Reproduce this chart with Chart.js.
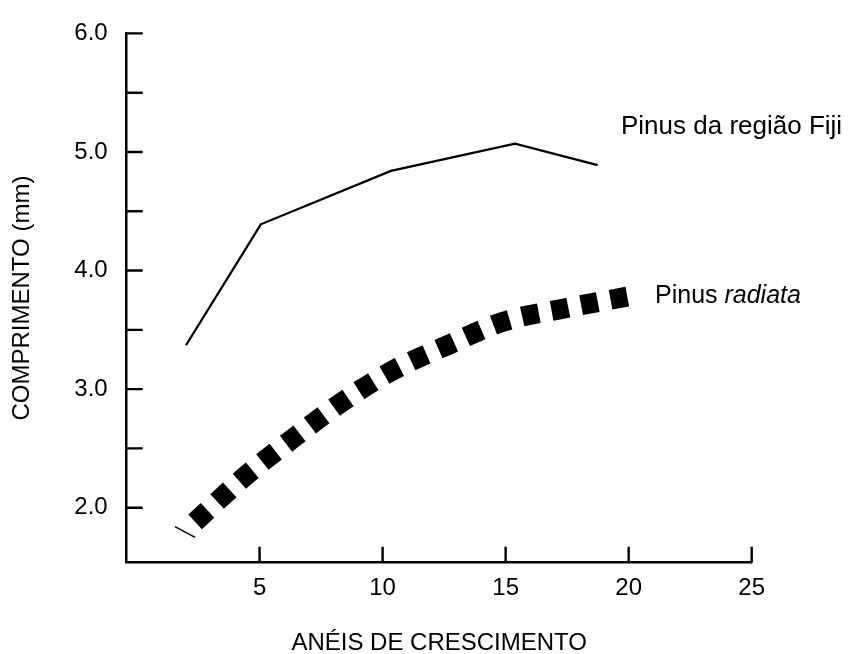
<!DOCTYPE html>
<html>
<head>
<meta charset="utf-8">
<script src="https://cdn.jsdelivr.net/npm/chart.js@4/dist/chart.umd.min.js"></script>
<style>
  html, body { margin: 0; padding: 0; background: #fff; }
  #wrap { width: 851px; height: 654px; }
</style>
</head>
<body>
<div id="wrap"><canvas id="c" width="851" height="654"></canvas></div>
<script>
// ---- data ----
const xTickValues = [5, 10, 15, 20, 25];
const yTickValues = [2.0, 2.5, 3.0, 3.5, 4.0, 4.5, 5.0, 5.5, 6.0];
const yLabeledTicks = [2.0, 3.0, 4.0, 5.0, 6.0];

const fijiX = [2.01, 5.05, 10.34, 15.38, 18.74];
const fijiY = [3.37, 4.39, 4.84, 5.07, 4.89];

const radiataX = [2.38, 4.44, 6.33, 8.34, 10.44, 12.64, 14.93, 17.38, 20.21];
const radiataY = [1.88, 2.27, 2.58, 2.89, 3.16, 3.37, 3.57, 3.68, 3.79];

const stubX = [1.56, 2.38];
const stubY = [1.84, 1.75];

const seriesNames = ['Pinus da região Fiji', 'Pinus radiata'];
const xTitle = 'ANÉIS DE CRESCIMENTO';
const yTitle = 'COMPRIMENTO (mm)';

const FONT = '"Liberation Sans", Arial, Helvetica, sans-serif';
const zip = (xs, ys) => xs.map((x, i) => ({ x: x, y: ys[i] }));

const innerTicks = {
  id: 'innerTicks',
  afterDraw(chart) {
    const ctx = chart.ctx;
    const xs = chart.scales.x, ys = chart.scales.y;
    ctx.save();
    ctx.strokeStyle = '#000';
    ctx.lineWidth = 2.4;
    ctx.beginPath();
    yTickValues.forEach(v => {
      const p = ys.getPixelForValue(v);
      ctx.moveTo(xs.left, p);
      ctx.lineTo(xs.left + 16, p);
    });
    xTickValues.forEach(v => {
      const p = xs.getPixelForValue(v);
      ctx.moveTo(p, ys.bottom);
      ctx.lineTo(p, ys.bottom - 16);
    });
    ctx.stroke();

    // series labels
    ctx.fillStyle = '#000';
    ctx.textBaseline = 'alphabetic';
    ctx.textAlign = 'left';
    ctx.font = '26px ' + FONT;
    ctx.fillText(seriesNames[0], 621, 134);
    const parts = seriesNames[1].split(' ');
    ctx.font = '25px ' + FONT;
    const first = parts[0] + ' ';
    ctx.fillText(first, 655, 303);
    const w = ctx.measureText(first).width;
    ctx.font = 'italic 25px ' + FONT;
    ctx.fillText(parts[1], 655 + w, 303);
    ctx.restore();
  }
};

new Chart(document.getElementById('c'), {
  type: 'line',
  data: {
    datasets: [
      {
        label: seriesNames[0],
        data: zip(fijiX, fijiY),
        borderColor: '#000',
        borderWidth: 2.3,
        pointRadius: 0,
        tension: 0,
        fill: false
      },
      {
        label: seriesNames[1],
        data: zip(radiataX, radiataY),
        borderColor: '#000',
        borderWidth: 20,
        borderDash: [17, 13],
        borderCapStyle: 'butt',
        pointRadius: 0,
        cubicInterpolationMode: 'monotone',
        fill: false
      },
      {
        label: 'stub',
        data: zip(stubX, stubY),
        borderColor: '#000',
        borderWidth: 1.5,
        pointRadius: 0,
        tension: 0,
        fill: false
      }
    ]
  },
  options: {
    responsive: false,
    animation: false,
    devicePixelRatio: 1,
    layout: { padding: { top: 25.7, left: 0, right: 99.3, bottom: 0 } },
    plugins: { legend: { display: false }, tooltip: { enabled: false } },
    scales: {
      x: {
        type: 'linear',
        min: -0.4,
        max: 25,
        afterBuildTicks: s => { s.ticks = xTickValues.map(v => ({ value: v })); },
        afterFit: s => { s.height = 91.3; },
        grid: { display: false, drawTicks: false },
        border: { display: true, color: '#000', width: 2.5 },
        ticks: {
          color: '#000',
          font: { family: FONT, size: 24 },
          padding: 11,
          maxRotation: 0,
          autoSkip: false,
          callback: v => String(v)
        },
        title: {
          display: true,
          text: xTitle,
          color: '#000',
          font: { family: FONT, size: 24, lineHeight: 0.85 },
          padding: { top: 0, bottom: 0 }
        }
      },
      y: {
        type: 'linear',
        min: 1.536,
        max: 6.0,
        afterBuildTicks: s => { s.ticks = yTickValues.map(v => ({ value: v })); },
        afterFit: s => { s.width = 126.7; },
        grid: { display: false, drawTicks: false },
        border: { display: true, color: '#000', width: 2.5 },
        ticks: {
          color: '#000',
          font: { family: FONT, size: 24 },
          padding: 19,
          autoSkip: false,
          callback: v => (yLabeledTicks.includes(v) ? v.toFixed(1) : '')
        },
        title: {
          display: true,
          text: yTitle,
          color: '#000',
          font: { family: FONT, size: 24 },
          padding: { top: 8, bottom: 0 }
        }
      }
    }
  },
  plugins: [innerTicks]
});
</script>
</body>
</html>
